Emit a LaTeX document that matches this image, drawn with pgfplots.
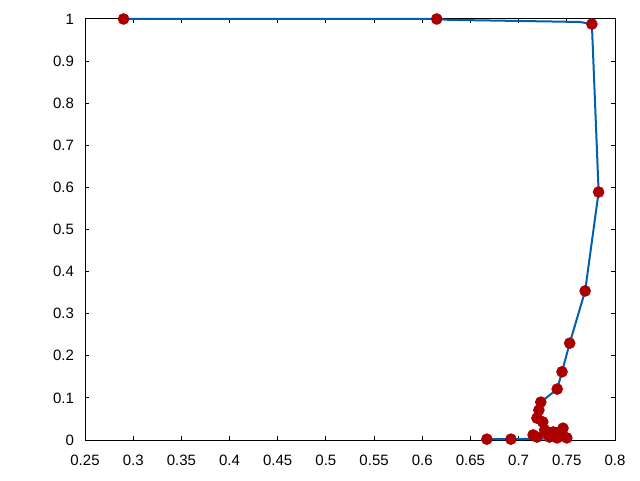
\documentclass[border=0pt]{standalone}
\usepackage{fontspec}
\setmainfont{Liberation Sans}
\usepackage{pgfplots}
\pgfplotsset{compat=1.18}
\definecolor{lineblue}{HTML}{0060AD}
\definecolor{ptred}{HTML}{AA0000}

\begin{document}
\begin{tikzpicture}
\begin{axis}[
    at={(0,0)}, anchor=south west,
    scale only axis,
    width=265pt, height=210.5pt,
    xmin=0.25, xmax=0.8, ymin=0, ymax=1,
    xtick={0.25,0.3,...,0.81},
    ytick={0,0.1,...,1.01},
    xticklabels={0.25,0.3,0.35,0.4,0.45,0.5,0.55,0.6,0.65,0.7,0.75,0.8},
    yticklabels={0,0.1,0.2,0.3,0.4,0.5,0.6,0.7,0.8,0.9,1},
    tick align=inside,
    major tick length=2pt,
    tick style={black, line width=0.5pt},
    axis line style={line width=0.5pt},
    ticklabel style={font=\fontsize{7.5}{8.5}\selectfont},
    xticklabel style={yshift=-4pt},
    yticklabel style={xshift=-2pt},
    clip=false,
]
% frontier line
\addplot[lineblue, line width=1pt] coordinates {
  (0.290,1.000) (0.615,1.000) (0.627,0.998) (0.763,0.993) (0.776,0.988)
  (0.783,0.589) (0.769,0.354) (0.753,0.230) (0.745,0.162) (0.740,0.121)
  (0.723,0.090) (0.721,0.071) (0.725,0.043) (0.727,0.028) (0.746,0.028)
  (0.743,0.012) (0.736,0.005) (0.725,0.003) (0.692,0.002) (0.667,0.002)
};
% all points
\addplot[only marks, mark=*, mark size=2.7pt, mark options={fill=ptred, draw=ptred}] coordinates {
  (0.290,1.000) (0.615,1.000) (0.776,0.988) (0.783,0.589) (0.769,0.354)
  (0.753,0.230) (0.745,0.162) (0.740,0.121) (0.723,0.090) (0.721,0.071)
  (0.719,0.052) (0.725,0.043) (0.727,0.024) (0.715,0.012) (0.719,0.007)
  (0.736,0.019) (0.746,0.028) (0.732,0.007) (0.740,0.005) (0.750,0.005)
  (0.743,0.012) (0.729,0.017) (0.692,0.002) (0.667,0.002)
};
\end{axis}
\pgfresetboundingbox
\path[use as bounding box] (-42.5pt,-20pt) rectangle (277.5pt,220pt);
\end{tikzpicture}
\end{document}
